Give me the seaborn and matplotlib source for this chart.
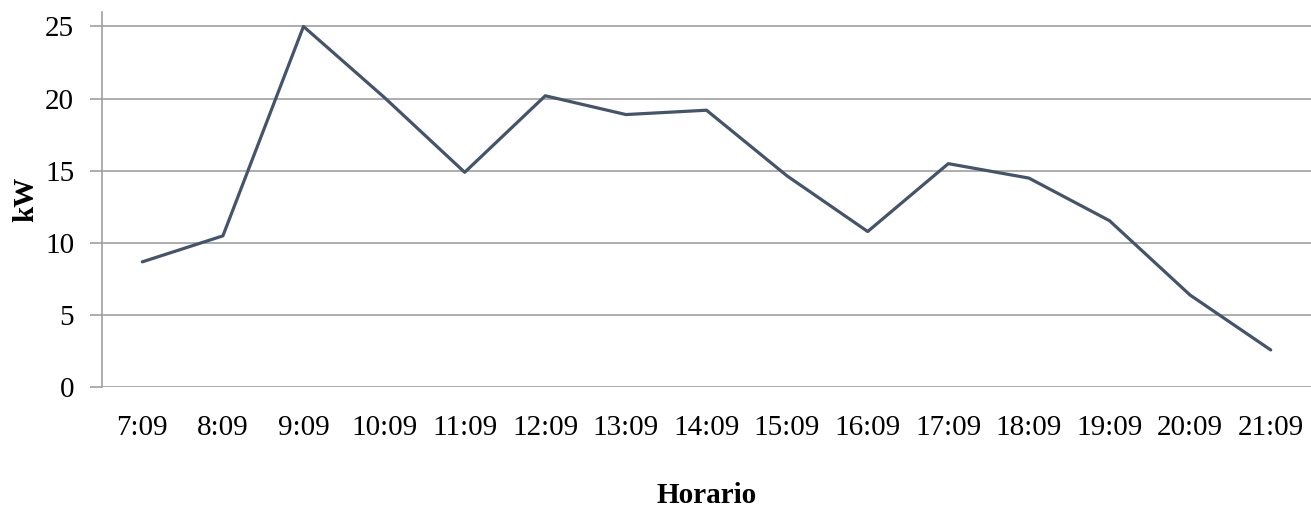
import matplotlib
matplotlib.use("Agg")
import matplotlib.pyplot as plt
import seaborn as sns
import pandas as pd

horario = ["7:09", "8:09", "9:09", "10:09", "11:09", "12:09", "13:09", "14:09",
           "15:09", "16:09", "17:09", "18:09", "19:09", "20:09", "21:09"]
kw = [8.7, 10.5, 25.0, 20.1, 14.9, 20.2, 18.9, 19.2, 14.65, 10.8, 15.5, 14.5, 11.55, 6.4, 2.6]
y_ticks = [0, 5, 10, 15, 20, 25]

sns.set_theme(style="white")
plt.rcParams['font.family'] = ['Liberation Serif', 'DejaVu Serif']

df = pd.DataFrame({"Horario": horario, "kW": kw})

fig = plt.figure(figsize=(13.11, 5.05), dpi=100)
ax = fig.add_axes([0.0778, 0.2327, 0.9222, 0.7435])
sns.lineplot(data=df, x="Horario", y="kW", ax=ax, color="#44546a", linewidth=2.3, sort=False)

ax.set_xlim(-0.5, len(horario) - 0.5)
ax.set_ylim(0, 26)
ax.set_yticks(y_ticks)
ax.set_yticklabels([str(t) for t in y_ticks], fontsize=21)
ax.set_xticks(range(len(horario)))
ax.set_xticklabels(horario, fontsize=21)
ax.grid(axis="y", color="#a0a0a0", linewidth=1.2)
ax.set_axisbelow(True)
for s in ["top", "right", "bottom"]:
    ax.spines[s].set_visible(False)
ax.spines["left"].set_color("#a0a0a0")
ax.spines["left"].set_linewidth(1.2)
ax.tick_params(axis="y", which="both", left=True, length=9, width=1.2, color="#a0a0a0", pad=11, labelcolor="black")
ax.tick_params(axis="x", bottom=False, pad=14, labelcolor="black")

ax.set_xlabel("Horario", fontsize=21, fontweight="bold", labelpad=29, color="black")
ax.set_ylabel("kW", fontsize=21, fontweight="bold", labelpad=4, color="black")

fig.savefig("out.png", dpi=100, facecolor="white")
